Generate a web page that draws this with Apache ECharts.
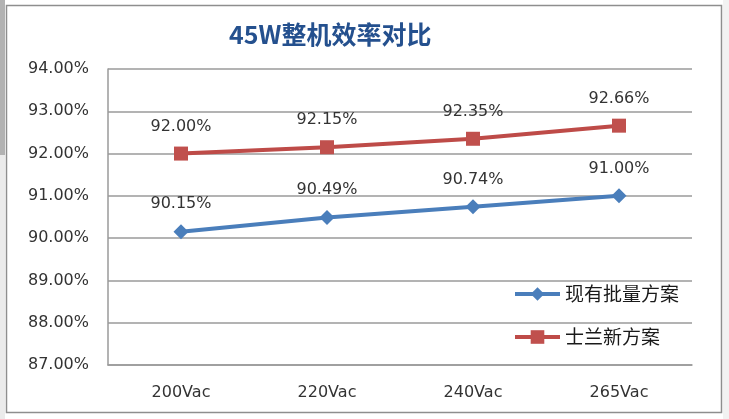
<!DOCTYPE html>
<html>
<head>
<meta charset="utf-8">
<script src="https://cdn.jsdelivr.net/npm/echarts@6/dist/echarts.min.js"></script>
<style>
html,body{margin:0;padding:0;background:#fff;}
#chart{width:729px;height:419px;}
</style>
</head>
<body>
<div id="chart"></div>
<script>
const titleText = '45W整机效率对比';
const categories = ['200Vac', '220Vac', '240Vac', '265Vac'];
const seriesNames = ['现有批量方案', '士兰新方案'];
const existingValues = [90.15, 90.49, 90.74, 91.00];
const newValues = [92.00, 92.15, 92.35, 92.66];
const yMin = 87, yMax = 94, yStep = 1;

const chart = echarts.init(document.getElementById('chart'), null, {renderer: 'canvas'});
const numFont = 'DejaVu Sans';
const cjkFont = '"Noto Sans CJK SC"';
const pct = v => Number(v).toFixed(2) + '%';

chart.setOption({
  backgroundColor: '#ffffff',
  animation: false,
  title: {
    text: titleText,
    left: 229,
    top: 21,
    padding: 0,
    textStyle: {fontFamily: cjkFont, fontWeight: 'bold', fontSize: 25, color: '#24508e', lineHeight: 27}
  },
  graphic: [
    {type: 'rect', shape: {x: 0, y: 0, width: 5, height: 155}, style: {fill: '#b2b2b2'}, silent: true},
    {type: 'rect', shape: {x: 0, y: 155, width: 5, height: 264}, style: {fill: '#ebebeb'}, silent: true},
    {type: 'rect', shape: {x: 723, y: 0, width: 6, height: 419}, style: {fill: '#f2f2f2'}, silent: true},
    {type: 'rect', shape: {x: 6.5, y: 5.5, width: 715, height: 407}, style: {fill: 'none', stroke: '#8e8e8e', lineWidth: 1.5}, silent: true}
  ],
  grid: {left: 108, right: 37, top: 69, bottom: 54, containLabel: false},
  legend: {
    orient: 'vertical',
    left: 513,
    top: 284,
    padding: 0,
    itemWidth: 45,
    itemHeight: 17,
    itemGap: 23,
    lineStyle: {width: 4},
    textStyle: {fontFamily: cjkFont, fontSize: 19, lineHeight: 20, color: '#1a1a1a'},
    data: seriesNames
  },
  xAxis: {
    type: 'category',
    data: categories,
    boundaryGap: true,
    axisLine: {show: true, lineStyle: {color: '#9a9a9a', width: 1.5}},
    axisTick: {show: false},
    axisLabel: {fontFamily: numFont, fontSize: 16, color: '#333333', margin: 20}
  },
  yAxis: {
    type: 'value',
    min: yMin, max: yMax, interval: yStep,
    axisLine: {show: true, lineStyle: {color: '#9a9a9a', width: 1.5}},
    axisTick: {show: false},
    splitLine: {show: true, lineStyle: {color: '#9a9a9a', width: 1.5}},
    axisLabel: {fontFamily: numFont, fontSize: 16, color: '#333333', margin: 19, formatter: v => pct(v)}
  },
  series: [
    {
      name: seriesNames[0],
      type: 'line',
      data: existingValues,
      symbol: 'diamond',
      symbolSize: 15,
      lineStyle: {color: '#4a7ebb', width: 4},
      itemStyle: {color: '#4a7ebb'},
      label: {show: true, position: 'top', distance: 12, fontFamily: numFont, fontSize: 16, color: '#333333', formatter: p => pct(p.value)}
    },
    {
      name: seriesNames[1],
      type: 'line',
      data: newValues,
      symbol: 'rect',
      symbolSize: 14,
      lineStyle: {color: '#be4b48', width: 4},
      itemStyle: {color: '#c0504d'},
      label: {show: true, position: 'top', distance: 12, fontFamily: numFont, fontSize: 16, color: '#333333', formatter: p => pct(p.value)}
    }
  ]
});
</script>
</body>
</html>
